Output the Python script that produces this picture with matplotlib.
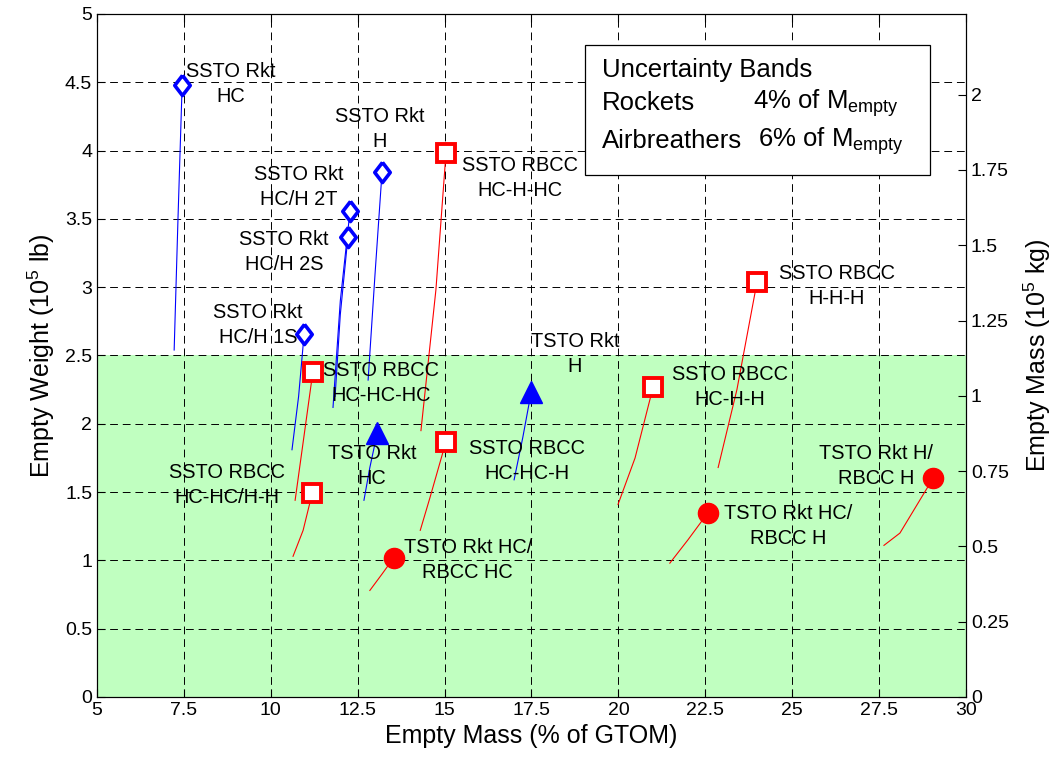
import numpy as np
import matplotlib.pyplot as plt
from matplotlib.patches import Rectangle

plt.rcParams['font.family'] = ['Liberation Sans', 'DejaVu Sans']
plt.rcParams['mathtext.fontset'] = 'custom'
plt.rcParams['mathtext.rm'] = 'Liberation Sans'
plt.rcParams['mathtext.it'] = 'Liberation Sans'

# SSTO rockets (blue diamonds)
ssto_rkt_x = [7.45, 13.2, 12.28, 12.22, 10.96]
ssto_rkt_y = [4.48, 3.84, 3.56, 3.37, 2.66]
ssto_rkt_trail_x = [[7.45, 7.33, 7.22], [13.2, 13.0, 12.8], [12.28, 12.0, 11.79],
                    [12.22, 12.0, 11.85], [10.96, 10.8, 10.61]]
ssto_rkt_trail_y = [[4.48, 3.5, 2.54], [3.84, 3.1, 2.32], [3.56, 2.9, 2.12],
                    [3.37, 2.8, 2.2], [2.66, 2.2, 1.81]]

# TSTO rockets (blue triangles)
tsto_rkt_x = [13.06, 17.49]
tsto_rkt_y = [1.93, 2.23]
tsto_rkt_trail_x = [[13.06, 12.85, 12.68], [17.49, 17.25, 17.0]]
tsto_rkt_trail_y = [[1.93, 1.68, 1.44], [2.23, 1.9, 1.59]]

# SSTO RBCC (red open squares)
ssto_rbcc_x = [11.19, 11.21, 15.04, 15.04, 21.0, 23.99]
ssto_rbcc_y = [1.49, 2.38, 3.98, 1.87, 2.27, 3.04]
ssto_rbcc_trail_x = [[11.19, 10.93, 10.64], [11.21, 10.95, 10.7], [15.04, 14.75, 14.32],
                     [15.04, 14.58, 14.3], [21.0, 20.48, 19.99], [23.99, 23.41, 22.87]]
ssto_rbcc_trail_y = [[1.49, 1.22, 1.03], [2.38, 1.9, 1.44], [3.98, 2.98, 1.95],
                     [1.87, 1.46, 1.22], [2.27, 1.75, 1.41], [3.04, 2.25, 1.68]]

# TSTO rocket / RBCC (red filled circles)
tsto_rbcc_x = [13.54, 22.58, 29.05]
tsto_rbcc_y = [1.02, 1.35, 1.60]
tsto_rbcc_trail_x = [[13.54, 13.2, 12.85], [22.58, 22.0, 21.48], [29.05, 28.1, 27.64]]
tsto_rbcc_trail_y = [[1.02, 0.9, 0.78], [1.35, 1.15, 0.98], [1.60, 1.2, 1.11]]

# point labels
label_text = ['SSTO Rkt\nHC', 'SSTO Rkt\nH', 'SSTO Rkt\nHC/H 2T', 'SSTO Rkt\nHC/H 2S',
              'SSTO Rkt\nHC/H 1S', 'SSTO RBCC\nHC-HC-HC', 'TSTO Rkt\nHC', 'TSTO Rkt\nH',
              'SSTO RBCC\nHC-HC-H', 'SSTO RBCC\nHC-HC/H-H', 'SSTO RBCC\nHC-H-HC',
              'TSTO Rkt HC/\nRBCC HC', 'SSTO RBCC\nHC-H-H', 'SSTO RBCC\nH-H-H',
              'TSTO Rkt HC/\nRBCC H', 'TSTO Rkt H/\nRBCC H']
label_x = [8.86, 13.13, 10.81, 10.38, 9.63, 13.17, 12.91, 18.75,
           17.37, 8.74, 17.17, 15.67, 23.21, 26.29, 24.88, 27.41]
label_y = [4.49, 4.16, 3.73, 3.26, 2.72, 2.30, 1.69, 2.51,
           1.73, 1.55, 3.80, 1.00, 2.27, 3.01, 1.25, 1.69]

lb_to_kg = 0.45359
kg_ticks = [0, 0.25, 0.5, 0.75, 1, 1.25, 1.5, 1.75, 2]
kg_labels = ['0', '0.25', '0.5', '0.75', '1', '1.25', '1.5', '1.75', '2']

diamond = [(0, 1.3), (1, 0), (0, -1.3), (-1, 0), (0, 1.3)]

fig = plt.figure(figsize=(10.6, 7.65), dpi=100)
ax = fig.add_axes([0.0915, 0.0889, 0.8198, 0.8928])

ax.axhspan(0, 2.5, color='#c0ffc0', zorder=0.2, lw=0)

for xs, ys in zip(ssto_rkt_trail_x + tsto_rkt_trail_x, ssto_rkt_trail_y + tsto_rkt_trail_y):
    ax.plot(xs, ys, '-', color='blue', lw=0.8, zorder=2)
for xs, ys in zip(ssto_rbcc_trail_x + tsto_rbcc_trail_x, ssto_rbcc_trail_y + tsto_rbcc_trail_y):
    ax.plot(xs, ys, '-', color='red', lw=0.8, zorder=2)

ax.plot(ssto_rkt_x, ssto_rkt_y, marker=diamond, ms=14.5, mfc='white', mec='blue', mew=2.6, ls='none', zorder=3)
ax.plot(tsto_rkt_x, tsto_rkt_y, '^', ms=16, mfc='blue', mec='blue', ls='none', zorder=3)
ax.plot(ssto_rbcc_x, ssto_rbcc_y, 's', ms=12.5, mfc='white', mec='red', mew=2.8, ls='none', zorder=3)
ax.plot(tsto_rbcc_x, tsto_rbcc_y, 'o', ms=14.5, mfc='red', mec='red', ls='none', zorder=3)

for t, lx, ly in zip(label_text, label_x, label_y):
    ax.text(lx, ly, t, ha='center', va='center', fontsize=14.4, linespacing=1.4, zorder=4)

ax.set_xlim(5, 30)
ax.set_ylim(0, 5)
ax.set_xticks(np.arange(5, 30.1, 2.5))
ax.set_xticklabels(['5', '7.5', '10', '12.5', '15', '17.5', '20', '22.5', '25', '27.5', '30'])
ax.set_yticks(np.arange(0, 5.01, 0.5))
ax.set_yticklabels(['0', '0.5', '1', '1.5', '2', '2.5', '3', '3.5', '4', '4.5', '5'])
ax.grid(True, color='black', ls=(0, (8, 5)), lw=0.7, zorder=1)
ax.tick_params(direction='in', top=True, right=True, labelsize=14, length=6)
ax.set_xlabel('Empty Mass (% of GTOM)', fontsize=18)
ax.set_ylabel('Empty Weight (10$^5$ lb)', fontsize=18, labelpad=6)

ax2 = ax.twinx()
ax2.set_ylim(0, 5 * lb_to_kg)
ax2.set_yticks(kg_ticks)
ax2.set_yticklabels(kg_labels)
ax2.tick_params(direction='in', labelsize=14, length=6)
ax2.set_ylabel('Empty Mass (10$^5$ kg)', fontsize=18, labelpad=9)

# uncertainty band note
ax.add_patch(Rectangle((0.5616, 0.764), 0.397, 0.19, transform=ax.transAxes,
                       facecolor='white', edgecolor='black', lw=0.9, zorder=5))
ax.text(0.5811, 0.918, 'Uncertainty Bands', transform=ax.transAxes, fontsize=18.5, va='center', zorder=6)
ax.text(0.5811, 0.869, 'Rockets', transform=ax.transAxes, fontsize=18.5, va='center', zorder=6)
ax.text(0.755, 0.869, '4% of M$_{\\rm empty}$', transform=ax.transAxes, fontsize=18.5, va='center', zorder=6)
ax.text(0.5811, 0.814, 'Airbreathers', transform=ax.transAxes, fontsize=18.5, va='center', zorder=6)
ax.text(0.7606, 0.814, '6% of M$_{\\rm empty}$', transform=ax.transAxes, fontsize=18.5, va='center', zorder=6)

fig.savefig('out.png', dpi=100)
